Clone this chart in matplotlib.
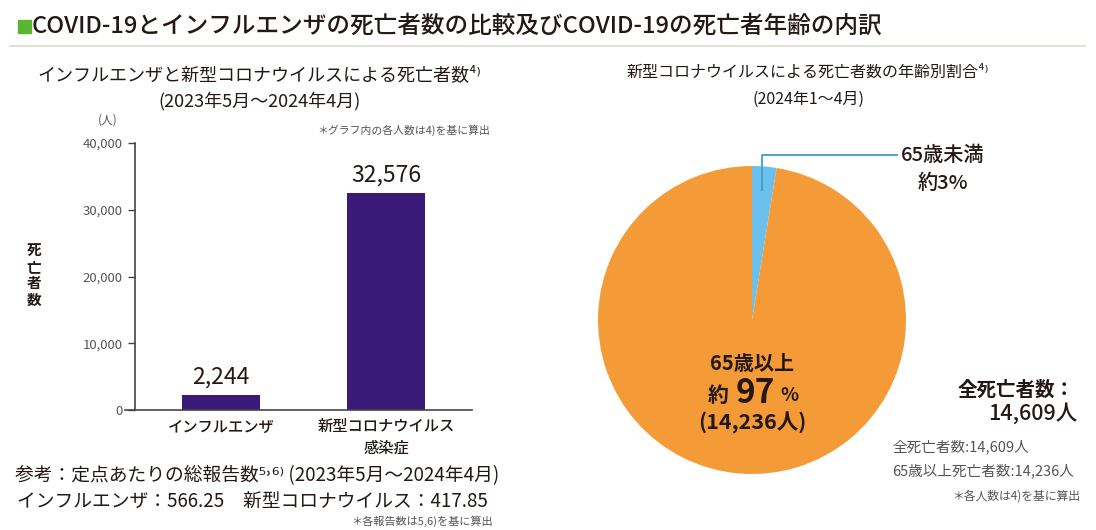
import numpy as np
import matplotlib
matplotlib.use("Agg")
import matplotlib.pyplot as plt
from matplotlib.patches import Rectangle

plt.rcParams['font.family'] = ['Noto Sans CJK JP', 'DejaVu Sans']

# data
bar_labels = ['インフルエンザ', '新型コロナウイルス\n感染症']
bar_values = [2244, 32576]
y_ticks = [0, 10000, 20000, 30000, 40000]

pie_labels = ['65歳未満', '65歳以上']
pie_values = [373, 14236]
total_deaths = 14609

bar_color = '#3a1a78'
orange = '#f49b37'
blue = '#6cc0ee'
text_dark = '#231815'
grey = '#555555'

fig = plt.figure(figsize=(10.96, 5.30), dpi=100)
fig.patch.set_facecolor('white')

# page title
fig.patches.append(Rectangle((18 / 1096, 1 - 33 / 530), 13 / 1096, 13 / 530,
                             transform=fig.transFigure, color='#5cb531'))
fig.text(32 / 1096, 1 - 26 / 530, 'COVID-19とインフルエンザの死亡者数の比較及びCOVID-19の死亡者年齢の内訳',
         fontsize=17, color=text_dark, va='center', ha='left', fontweight='medium')
fig.add_artist(plt.Line2D([10 / 1096, 1085 / 1096], [1 - 46 / 530, 1 - 46 / 530],
                          transform=fig.transFigure, color='#d8dccc', lw=1.2))

# ---- bar chart ----
ax = fig.add_axes([135 / 1096, 1 - 410 / 530, 337 / 1096, 267 / 530])
x = np.arange(len(bar_values))
ax.bar(x, bar_values, width=0.47, color=bar_color)
ax.set_xlim(-0.52, 1.52)
ax.set_ylim(0, 40000)
ax.set_yticks(y_ticks)
ax.set_yticklabels([f'{v:,}' for v in y_ticks], fontsize=9.5, color=grey)
ax.set_xticks(x)
ax.set_xticklabels(bar_labels, fontsize=11, color=text_dark, linespacing=1.35, fontweight='medium')
ax.tick_params(axis='x', length=0, pad=6)
ax.tick_params(axis='y', length=5, width=1, color='#444444', pad=4)
for s in ['top', 'right']:
    ax.spines[s].set_visible(False)
for s in ['left', 'bottom']:
    ax.spines[s].set_color('#444444')
    ax.spines[s].set_linewidth(1.2)
ax.spines['bottom'].set_bounds(-0.58, 1.52)
for xi, v in zip(x, bar_values):
    ax.text(xi, v + 900, f'{v:,}', ha='center', va='bottom', fontsize=16.5, color=text_dark)

fig.text(108 / 1096, 1 - 120 / 530, '(人)', fontsize=8.5, color=grey, ha='center', va='center')
fig.text(34 / 1096, 1 - 275 / 530, '死\n亡\n者\n数', fontsize=10.5, color=text_dark,
         ha='center', va='center', linespacing=1.05, fontweight='bold')
fig.text(259 / 1096, 1 - 75 / 530, 'インフルエンザと新型コロナウイルスによる死亡者数⁴⁾',
         fontsize=13, color=text_dark, ha='center', va='center')
fig.text(259 / 1096, 1 - 101 / 530, '(2023年5月～2024年4月)',
         fontsize=13, color=text_dark, ha='center', va='center')
fig.text(490 / 1096, 1 - 130 / 530, '＊グラフ内の各人数は4)を基に算出',
         fontsize=7.8, color=grey, ha='right', va='center')
fig.text(257 / 1096, 1 - 476 / 530, '参考：定点あたりの総報告数⁵˒⁶⁾ (2023年5月～2024年4月)',
         fontsize=13.5, color=text_dark, ha='center', va='center')
fig.text(252 / 1096, 1 - 502 / 530, 'インフルエンザ：566.25　新型コロナウイルス：417.85',
         fontsize=13.5, color=text_dark, ha='center', va='center')
fig.text(493 / 1096, 1 - 521 / 530, '＊各報告数は5,6)を基に算出',
         fontsize=8, color=grey, ha='right', va='center')

# ---- pie chart ----
r_px = 154
cx, cy = 752, 320
pax = fig.add_axes([(cx - r_px) / 1096, 1 - (cy + r_px) / 530, 2 * r_px / 1096, 2 * r_px / 530])
wedges, _ = pax.pie(pie_values, colors=[blue, orange], startangle=90, counterclock=False,
                    wedgeprops=dict(linewidth=0))
pax.set_xlim(-1, 1)
pax.set_ylim(-1, 1)
pax.set_aspect('auto')
pax.axis('off')

# leader line for the small slice
w = wedges[0]
mid = np.deg2rad((w.theta1 + w.theta2) / 2)
px, py = 0.85 * np.cos(mid), 0.85 * np.sin(mid)
pax.plot([px, px, 0.94], [py, 1.07, 1.07], color='#3aa0cc', lw=1.3, clip_on=False)
pax.text(1.24, 1.07, pie_labels[0], fontsize=14.5, color=text_dark, ha='center', va='center',
         fontweight='medium')
pct_small = round(pie_values[0] / total_deaths * 100)
pax.text(1.24, 0.89, f'約{pct_small}%', fontsize=14.5, color=text_dark, ha='center', va='center',
         fontweight='medium')

pct_big = round(pie_values[1] / total_deaths * 100)
pax.text(0, -0.28, pie_labels[1], fontsize=14.5, color=text_dark, ha='center', va='center',
         fontweight='bold')
pax.text(-0.22, -0.49, '約', fontsize=15, color=text_dark, ha='center', va='center', fontweight='bold')
pax.text(0.02, -0.48, f'{pct_big}', fontsize=24, color=text_dark, ha='center', va='center', fontweight='bold')
pax.text(0.24, -0.49, '%', fontsize=13.5, color=text_dark, ha='center', va='center', fontweight='bold')
pax.text(0, -0.67, f'({pie_values[1]:,}人)', fontsize=15.5, color=text_dark, ha='center', va='center',
         fontweight='bold')

fig.text(808 / 1096, 1 - 72 / 530, '新型コロナウイルスによる死亡者数の年齢別割合⁴⁾',
         fontsize=11.5, color=text_dark, ha='center', va='center')
fig.text(808 / 1096, 1 - 99 / 530, '(2024年1～4月)',
         fontsize=11.5, color=text_dark, ha='center', va='center')

fig.text(1075 / 1096, 1 - 390 / 530, '全死亡者数：', fontsize=14, color=text_dark,
         ha='right', va='center', fontweight='bold')
fig.text(1077 / 1096, 1 - 414 / 530, f'{total_deaths:,}人', fontsize=15.5, color=text_dark,
         ha='right', va='center', fontweight='medium')
fig.text(892 / 1096, 1 - 447 / 530, f'全死亡者数:{total_deaths:,}人', fontsize=10.5, color=grey,
         ha='left', va='center')
fig.text(892 / 1096, 1 - 471 / 530, f'65歳以上死亡者数:{pie_values[1]:,}人', fontsize=10.5, color=grey,
         ha='left', va='center')
fig.text(1080 / 1096, 1 - 496 / 530, '＊各人数は4)を基に算出', fontsize=8.5, color=grey,
         ha='right', va='center')

fig.savefig('out.png', dpi=100, facecolor='white')
